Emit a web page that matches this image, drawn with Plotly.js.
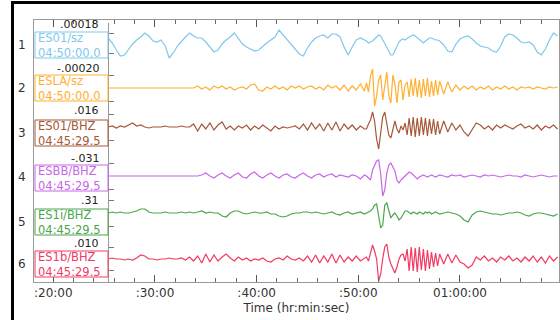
<!DOCTYPE html>
<html><head><meta charset="utf-8">
<script src="https://cdn.plot.ly/plotly-3.0.1.min.js"></script>
<style>html,body{margin:0;padding:0;background:#fff}#chart{width:560px;height:320px}</style>
</head><body><div id="chart"></div>
<script>
// time in minutes past the hour (x axis)
const timeMin = [
25.4,25.8,26.2,26.6,27.0,27.4,27.8,28.2,28.6,29.0,29.4,29.8,30.2,30.6,31.0,31.4,31.8,32.2,32.6,33.0,33.4,33.8,34.2,34.6,35.0,35.4,35.8,36.2,36.6,37.0,37.4,37.8,38.2,38.6,39.0,39.4,39.8,40.2,40.6,41.0,41.4,41.8,42.2,42.6,43.0,43.4,43.8,44.2,44.6,45.0,45.4,45.8,46.2,46.6,47.0,47.4,47.8,48.2,48.6,49.0,49.4,49.8,50.2,50.6,
50.8,51.0,51.2,51.4,51.6,51.8,52.0,52.2,52.4,52.6,52.8,53.0,53.2,53.4,53.6,53.8,54.0,54.2,54.4,54.6,54.8,55.0,55.2,55.4,55.6,55.8,56.0,56.2,56.4,56.6,56.8,57.0,57.2,57.4,57.6,57.8,58.0,
58.4,58.8,59.2,59.6,60.0,60.4,60.8,61.2,61.6,62.0,62.4,62.8,63.2,63.6,64.0,64.4,64.8,65.2,65.6,66.0,66.4,66.8,67.2,67.6,68.0,68.4,68.8,69.2,69.6];

const rowNumbers = ['1','2','3','4','5','6'];
const stations = ['ES01/sz','ESLA/sz','ES01/BHZ','ESBB/BHZ','ES1i/BHZ','ES1b/BHZ'];
const startTimes = ['04:50:00.0','04:50:00.0','04:45:29.5','04:45:29.5','04:45:29.5','04:45:29.5'];
const scaleLabels = ['.00018','-.00020','.016','-.031','.31','.010'];

// amplitudes (relative units)
const es01sz = [
5,0,-7,-13,-12,-6,-1,3,6,10,7,2,1,3,-3,-15,-10,-3,2,6,10,7,5,5,1,-4,-9,-7,-1,3,6,10,4,-1,-4,-6,-8,-7,-3,0,3,6,13,8,3,-2,-7,-11,-13,-5,1,5,7,8,5,9,9,6,-4,-12,-4,3,5,3,
2,0,1,2,4,6,8,7,3,-1,-5,-9,-12,-12,-8,-3,1,3,4,3,5,6,7,8,7,5,3,1,0,2,4,5,5,4,3,3,2,
-2,-8,-9,-1,4,6,7,4,0,-3,-4,-5,-8,-9,-3,6,9,8,5,1,0,1,-2,-9,-12,-6,3,10,7];
const eslasz = [
0,0,0,0,0,0,0,0,0,0,0,0,0,0,0,0,0,0,0,0,0,0,2,-1,1,-2,2,0,2,-1,1,-2,0,1,-1,3,4,-2,-3,1,-1,2,-1,1,-2,2,0,2,-1,1,2,-1,1,-2,3,0,2,-2,3,-3,2,-2,4,-3,
5,-4,12,19,-18,-8,8,13,-12,2,16,-8,-15,13,4,-15,6,8,-12,3,6,-9,9,-8,10,-9,8,-10,9,-8,10,-9,7,-8,8,-7,7,
-6,6,-4,3,-2,2,-1,2,-2,1,-1,2,-2,1,-1,2,-1,1,-2,1,0,1,-1,1,0,-1,1,0,1];
const es01bhz = [
0,1,-1,1,0,2,4,1,2,0,-1,0,0,0,1,0,0,0,1,0,0,3,-4,3,-2,4,-3,2,5,-2,1,-3,1,-1,2,-3,1,-2,2,-1,-4,1,-2,0,-1,0,1,-2,3,-3,4,-2,3,-4,4,-3,5,-4,3,-2,2,-3,1,-2,
-2,3,7,15,6,-12,-22,-6,10,15,2,-8,-11,-3,6,-2,-6,1,-3,4,-8,9,-9,10,-10,9,-9,10,-8,9,-9,8,-7,8,-8,6,-7,
6,-5,4,-3,2,-5,-9,-3,4,2,-2,1,-3,2,-1,2,0,-2,1,3,-1,1,-2,2,-3,1,-1,2,-2];
const esbbbhz = [
0,0,0,0,0,0,0,0,0,0,0,0,0,0,0,0,0,0,0,0,0,0,0,1,3,0,-2,1,3,0,-2,1,3,-1,-2,2,4,0,-2,1,3,0,-2,1,2,-1,-2,1,3,0,-2,1,2,-1,1,2,-1,1,0,-1,1,0,-3,1,
0,-2,-4,6,10,15,16,2,-20,-14,3,11,13,9,5,-4,-7,-4,-2,1,3,4,3,1,-1,-3,-1,0,1,0,-1,0,1,0,-1,0,1,
0,-1,1,0,1,-1,0,1,0,-1,1,0,1,0,-1,0,1,0,0,-1,1,0,-1,0,1,0,-1,0,0];
const es1ibhz = [
0,1,0,1,0,0,1,2,4,4,1,0,0,0,1,0,0,0,1,0,1,0,1,2,0,1,0,0,-3,-4,0,2,2,0,-1,0,1,0,0,1,-1,-1,-3,-4,-3,-1,0,0,1,1,0,1,0,-1,0,1,-1,-2,0,1,-1,0,1,-1,
0,1,2,4,8,9,-3,-15,-12,8,10,2,-5,-2,0,-3,-7,-5,-1,2,2,0,-1,1,0,-1,1,0,-1,1,0,1,-1,0,1,0,-1,
0,1,0,-1,-3,-7,-9,-2,1,2,1,0,-1,-1,-2,-1,0,0,1,0,-2,-3,-1,0,0,-1,-2,-3,-1];
const es1bbhz = [
0,1,0,0,-1,0,-1,1,4,3,0,0,-1,0,0,1,0,0,1,-1,2,-2,3,-4,5,-3,4,-2,2,5,1,-2,2,-1,1,-2,0,-1,1,-2,-3,0,1,-1,3,0,-1,1,-2,3,-3,4,-4,3,-3,5,-4,4,-3,2,-2,3,-2,1,
2,-2,6,14,8,0,-22,-15,0,12,15,2,-5,-10,-14,-8,0,4,5,-2,10,-12,12,-12,11,-13,12,-11,10,-12,9,-10,7,-8,6,-7,5,
-5,5,-4,4,-3,-5,-9,-6,2,-1,3,-2,1,-3,2,-1,3,-2,1,-3,2,-2,3,-3,2,-4,3,-2,2];

const tickVals = [20,30,40,50,60];
const tickText = [':20:00',':30:00',':40:00',':50:00','01:00:00'];

const series = [es01sz, eslasz, es01bhz, esbbbhz, es1ibhz, es1bbhz];
const colors = ['#7ec8ec','#ffb030','#a5583a','#c866e8','#4aa64a','#f23a62'];

// layout geometry (pixels)
const L = 34, R = 559, T = 20, B = 282;
const W = R - L, H = B - T;
const px = v => (v - L) / W;
const py = v => (B - v) / H;
const rowBase = [43, 88, 127, 176, 213, 259];
const rowHalf = [20, 26, 26, 26, 26, 23];
const boxTop = [32, 75, 120, 165, 209, 251];
const numY = [45, 88, 133, 177, 222, 264];
const scaleY = [24, 68, 111, 158, 200.5, 243.5];
const FONT = 'DejaVu Sans, sans-serif';

const traces = series.map((s, i) => ({
  x: timeMin, y: s, type: 'scatter', mode: 'lines',
  line: {color: colors[i], width: 1.2},
  xaxis: 'x', yaxis: i === 0 ? 'y' : 'y' + (i + 1), hoverinfo: 'skip'
}));
// empty frame subplot holder (no marks)
traces.push({x: [], y: [], type: 'scatter', mode: 'lines', xaxis: 'x', yaxis: 'y7', hoverinfo: 'skip'});

const layout = {
  width: 560, height: 320,
  margin: {l: L, r: 560 - R, t: T, b: 320 - B},
  paper_bgcolor: '#fff', plot_bgcolor: 'rgba(0,0,0,0)',
  showlegend: false,
  xaxis: {
    range: [18.1, 69.74], anchor: 'y7',
    tickmode: 'array', tickvals: tickVals, ticktext: tickText,
    ticks: 'inside', ticklen: 7, tickcolor: '#555', tickwidth: 1,
    minor: {tickmode: 'linear', tick0: 0, dtick: 2, ticks: 'inside', ticklen: 4, tickcolor: '#666', showgrid: false},
    showline: true, linecolor: '#999', linewidth: 1, mirror: 'ticks',
    showgrid: false, zeroline: false,
    tickfont: {family: FONT, size: 12, color: '#333'},
    title: {text: 'Time (hr:min:sec)', font: {family: FONT, size: 12, color: '#333'}, standoff: 4}
  },
  yaxis7: {domain: [0, 1], range: [0, 1], anchor: 'x', showline: true, mirror: true,
    linecolor: '#999', linewidth: 1, ticks: '', showticklabels: false, showgrid: false, zeroline: false},
  shapes: [], annotations: []
};

for (let i = 0; i < 6; i++) {
  const key = i === 0 ? 'yaxis' : 'yaxis' + (i + 1);
  const h = rowHalf[i], b = rowBase[i];
  layout[key] = {
    domain: [py(b + h), py(b - h)], range: [-h, h],
    anchor: 'free', position: px(108),
    showline: true, linecolor: '#999', linewidth: 1,
    ticks: 'inside', ticklen: 5, tickcolor: '#777',
    tickvals: [-h * 0.5, h * 0.5], showticklabels: false,
    showgrid: false, zeroline: false
  };
  layout.shapes.push({type: 'rect', xref: 'paper', yref: 'paper',
    x0: px(35), x1: px(108), y0: py(boxTop[i] + 26), y1: py(boxTop[i]),
    line: {color: colors[i], width: 1}, fillcolor: '#fff'});
  layout.annotations.push(
    {xref: 'paper', yref: 'paper', x: px(36.5), y: py(boxTop[i] + 13.3), xanchor: 'left', yanchor: 'middle',
     align: 'left', borderpad: 0,
     text: stations[i] + '<br>' + startTimes[i], showarrow: false, font: {family: FONT, size: 11.5, color: colors[i]}},
    {xref: 'paper', yref: 'paper', x: px(22), y: py(numY[i]), xanchor: 'center', yanchor: 'middle',
     text: rowNumbers[i], showarrow: false, font: {family: FONT, size: 12, color: '#333'}},
    {xref: 'paper', yref: 'paper', x: px(100), y: py(scaleY[i]), xanchor: 'right', yanchor: 'middle',
     borderpad: 0,
     text: scaleLabels[i], showarrow: false, font: {family: FONT, size: 11, color: '#222'}}
  );
}
// outer black frame
layout.shapes.push(
  {type: 'line', xref: 'paper', yref: 'paper', x0: px(12.5), x1: px(12.5), y0: py(2), y1: py(330), line: {color: '#000', width: 3}},
  {type: 'line', xref: 'paper', yref: 'paper', x0: px(11), x1: px(570), y0: py(2.5), y1: py(2.5), line: {color: '#000', width: 3}}
);

Plotly.newPlot('chart', traces, layout, {staticPlot: true, displayModeBar: false});
</script></body></html>
